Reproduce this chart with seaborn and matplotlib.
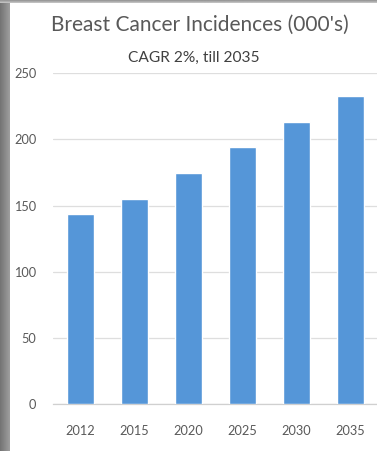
import numpy as np
import pandas as pd
import matplotlib
matplotlib.use("Agg")
import matplotlib.pyplot as plt
from matplotlib import font_manager
import seaborn as sns

# Chart data
years = ["2012", "2015", "2020", "2025", "2030", "2035"]
incidences = [144, 155, 175, 194, 213, 233]
y_ticks = [0, 50, 100, 150, 200, 250]

title = "Breast Cancer Incidences (000's)"
subtitle = "CAGR 2%, till 2035"

sns.set_style("white")
available = {f.name for f in font_manager.fontManager.ttflist}
family = "Liberation Sans Narrow" if "Liberation Sans Narrow" in available else "Lato"
plt.rcParams["font.family"] = [family, "DejaVu Sans"]

W, H = 377, 451
fig = plt.figure(figsize=(W / 100, H / 100), dpi=100)
fig.patch.set_facecolor("white")

ax = fig.add_axes([53 / W, 47 / H, 1 - 53 / W, (377.7 - 47) / H])
df = pd.DataFrame({"year": years, "value": incidences})
sns.barplot(data=df, x="year", y="value", color="#5596d8", width=0.5,
            saturation=1, ax=ax, zorder=3)

ax.set_ylim(0, 250)
ax.set_yticks(y_ticks)
ax.set_xlabel("")
ax.set_ylabel("")
ax.grid(axis="y", color="#dedede", linewidth=0.9, zorder=0)
for side in ["top", "right", "left"]:
    ax.spines[side].set_visible(False)
ax.spines["bottom"].set_color("#d0d0d0")
ax.spines["bottom"].set_linewidth(0.9)
ax.tick_params(axis="both", length=0, labelcolor="#595959", labelsize=9.2)
ax.tick_params(axis="x", pad=15)
ax.tick_params(axis="y", pad=12)

fig.text(200 / W, 1 - 25 / H, title, ha="center", va="center",
         fontsize=15, color="#595959")
fig.text(194 / W, 1 - 58 / H, subtitle, ha="center", va="center",
         fontsize=11.2, color="#404040")

# Gray frame strips on the left and top edges
band = fig.add_axes([0, 0, 10 / W, 1])
grad = np.linspace(0.45, 0.62, 50).reshape(1, -1)
band.imshow(grad, aspect="auto", cmap="gray", vmin=0, vmax=1, extent=[0, 1, 0, 1])
band.axis("off")
top = fig.add_axes([0, 1 - 3 / H, 1, 3 / H])
top.imshow(np.array([[0.6, 0.75]]).T, aspect="auto", cmap="gray", vmin=0, vmax=1)
top.axis("off")

fig.savefig("out.png", dpi=100, facecolor="white")
